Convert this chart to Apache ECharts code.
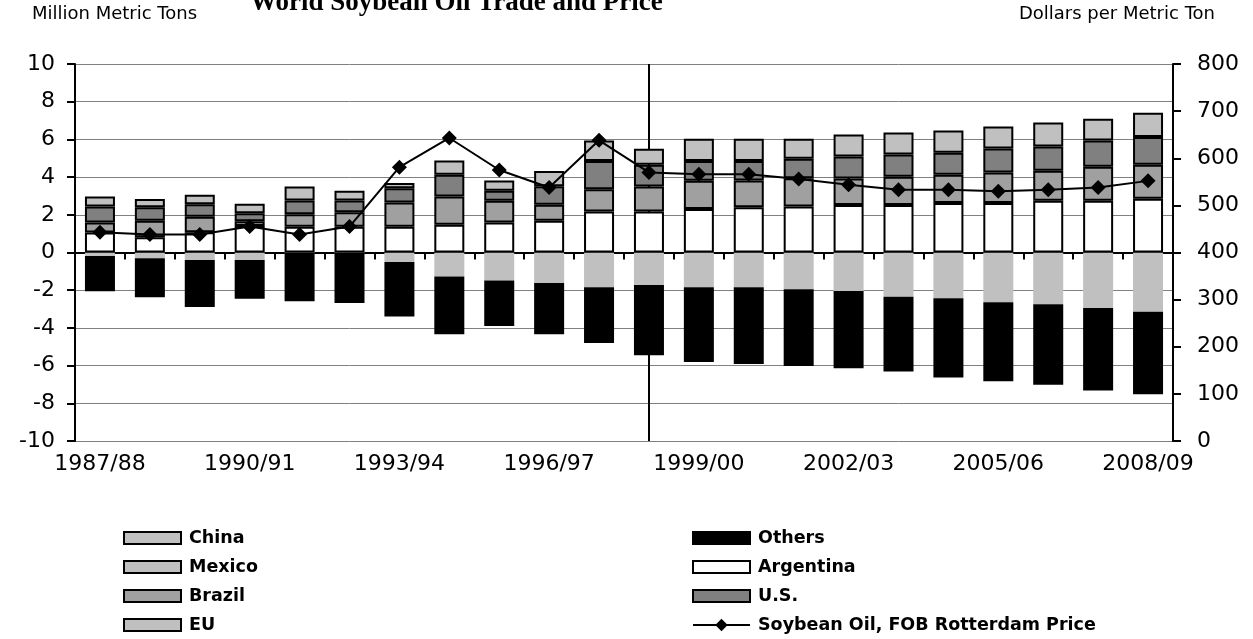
<!DOCTYPE html>
<html>
<head>
<meta charset="utf-8">
<script src="https://cdn.jsdelivr.net/npm/echarts@6/dist/echarts.min.js"></script>
<style>html,body{margin:0;padding:0;background:#fff;}#c{width:1253px;height:639px;}</style>
</head>
<body>
<div id="c"></div>
<script>
const categories = ['1987/88','1988/89','1989/90','1990/91','1991/92','1992/93','1993/94','1994/95','1995/96','1996/97','1997/98','1998/99','1999/00','2000/01','2001/02','2002/03','2003/04','2004/05','2005/06','2006/07','2007/08','2008/09'];
const argentina = [1.06,0.81,1.07,1.40,1.36,1.36,1.36,1.47,1.59,1.68,2.17,2.17,2.31,2.40,2.44,2.52,2.52,2.63,2.63,2.74,2.74,2.85];
const brazil    = [0.53,0.87,0.82,0.26,0.67,0.78,1.29,1.50,1.15,0.85,1.19,1.33,1.49,1.42,1.50,1.41,1.50,1.49,1.61,1.60,1.81,1.80];
const us        = [0.85,0.72,0.67,0.42,0.73,0.62,0.76,1.15,0.53,0.99,1.50,1.15,1.06,1.04,1.04,1.16,1.18,1.17,1.28,1.28,1.39,1.48];
const eu        = [0.53,0.44,0.51,0.50,0.74,0.51,0.28,0.76,0.55,0.81,1.08,0.86,1.18,1.18,1.06,1.17,1.16,1.18,1.16,1.27,1.16,1.29];
const china     = [-0.19,-0.31,-0.40,-0.40,0,0,-0.51,-1.27,-1.49,-1.62,-1.84,-1.73,-1.84,-1.84,-1.95,-2.04,-2.35,-2.43,-2.64,-2.74,-2.94,-3.14];
const mexico    = [];
const others    = [-1.87,-2.06,-2.49,-2.06,-2.58,-2.68,-2.89,-3.07,-2.41,-2.72,-2.96,-3.72,-3.97,-4.07,-4.07,-4.10,-3.96,-4.20,-4.19,-4.28,-4.38,-4.38];
const price     = [443,438,438,455,438,455,581,643,575,538,638,570,566,566,556,544,533,533,530,533,538,552];
const leftTicks = {min:-10, max:10, interval:2};
const rightTicks = {min:0, max:800, interval:100};
const dividerYear = '1998/99';

const chart = echarts.init(document.getElementById('c'));
const axisFont = {fontFamily:'DejaVu Sans', fontSize:22, color:'#000'};
const posBar = (name, data, color) => ({
  name, type:'bar', stack:'trade', data, barWidth:30, zlevel:1, z:2,
  itemStyle:{color, borderColor:'#000', borderWidth:2}
});
const negBar = (name, data, color) => ({
  name, type:'bar', stack:'trade', data, barWidth:30, zlevel:1, z:2,
  itemStyle:{color, borderColor:color, borderWidth:2}
});
const legendText = {fontFamily:'DejaVu Sans', fontWeight:'bold', fontSize:17.5, color:'#000', lineHeight:18, padding:[0,0,0,3]};
chart.setOption({
  animation:false,
  backgroundColor:'#fff',
  title:[
    {text:'World Soybean Oil Trade and Price', left:245, top:-15, textStyle:{fontFamily:'Liberation Serif', fontWeight:'bold', fontSize:27, color:'#000'}},
    {text:'Million Metric Tons', left:32, top:5, padding:0, textStyle:{fontFamily:'DejaVu Sans', fontWeight:'normal', fontSize:18, color:'#000'}},
    {text:'Dollars per Metric Ton', right:38, top:5, padding:0, textStyle:{fontFamily:'DejaVu Sans', fontWeight:'normal', fontSize:18, color:'#000'}}
  ],
  grid:{left:75, right:80, top:64, bottom:198, containLabel:false},
  legend:[
    {orient:'vertical', left:123, top:529, padding:0, itemWidth:57, itemHeight:12, itemGap:11, textStyle:legendText,
     itemStyle:{borderColor:'#000', borderWidth:2},
     data:[{name:'China',icon:'rect'},{name:'Mexico',icon:'rect'},{name:'Brazil',icon:'rect'},{name:'EU',icon:'rect'}]},
    {orient:'vertical', left:692, top:529, padding:0, itemWidth:57, itemHeight:12, itemGap:11, textStyle:legendText,
     itemStyle:{borderColor:'#000', borderWidth:2},
     data:[{name:'Others',icon:'rect'},{name:'Argentina',icon:'rect'},{name:'U.S.',icon:'rect'},{name:'Soybean Oil, FOB Rotterdam Price'}]}
  ],
  xAxis:[
    {type:'category', data:categories, position:'bottom',
     axisLine:{onZero:true, onZeroAxisIndex:0, lineStyle:{color:'#000', width:2}},
     axisTick:{show:true, interval:0, length:7, lineStyle:{color:'#000', width:2}},
     axisLabel:{show:false}, splitLine:{show:false}},
    {type:'category', data:categories, position:'bottom',
     axisLine:{show:false, onZero:false}, axisTick:{show:false},
     axisLabel:Object.assign({interval:2, margin:12}, axisFont), splitLine:{show:false}}
  ],
  yAxis:[
    {type:'value', min:leftTicks.min, max:leftTicks.max, interval:leftTicks.interval, position:'left',
     axisLine:{show:true, lineStyle:{color:'#000', width:2}},
     axisTick:{show:true, length:8, lineStyle:{color:'#000', width:2}},
     axisLabel:Object.assign({margin:20}, axisFont),
     splitLine:{show:true, lineStyle:{color:'#808080', width:1}}},
    {type:'value', min:rightTicks.min, max:rightTicks.max, interval:rightTicks.interval, position:'right',
     axisLine:{show:true, lineStyle:{color:'#000', width:2}},
     axisTick:{show:true, length:8, lineStyle:{color:'#000', width:2}},
     axisLabel:Object.assign({margin:24}, axisFont),
     splitLine:{show:false}}
  ],
  series:[
    {name:'divider', type:'line', data:[], zlevel:0, z:1,
     markLine:{silent:true, zlevel:0, z:1, symbol:['none','none'], label:{show:false},
       lineStyle:{color:'#000', width:2, type:'solid'}, data:[{xAxis:dividerYear}]}},
    negBar('China', china, '#c0c0c0'),
    negBar('Mexico', mexico, '#c0c0c0'),
    negBar('Others', others, '#000000'),
    posBar('Argentina', argentina, '#ffffff'),
    posBar('Brazil', brazil, '#a0a0a0'),
    posBar('U.S.', us, '#808080'),
    posBar('EU', eu, '#c0c0c0'),
    {name:'Soybean Oil, FOB Rotterdam Price', type:'line', yAxisIndex:1, data:price, zlevel:1, z:5,
     symbol:'diamond', symbolSize:15, itemStyle:{color:'#000'}, lineStyle:{color:'#000', width:2}}
  ]
});
</script>
</body>
</html>
